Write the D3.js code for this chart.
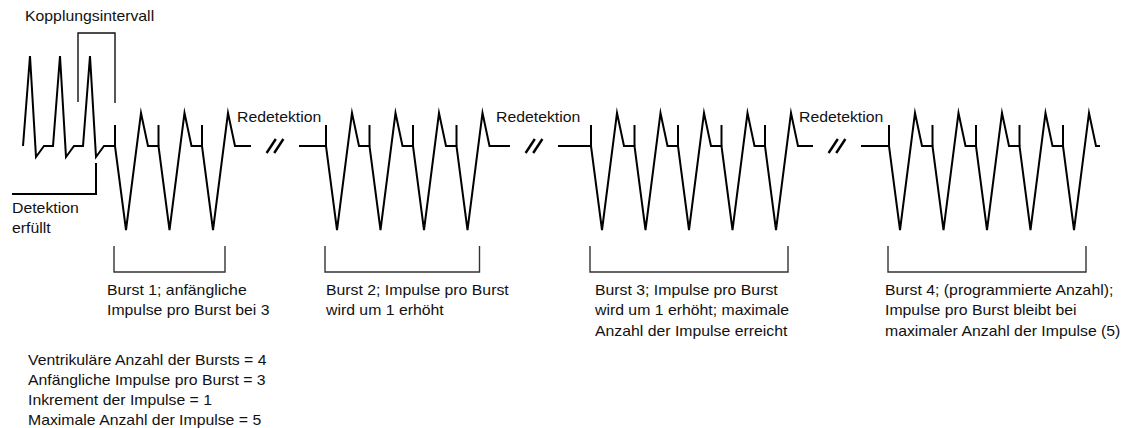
<!DOCTYPE html>
<html>
<head>
<meta charset="utf-8">
<script src="https://cdn.jsdelivr.net/npm/d3@7"></script>
<style>
  html, body { margin: 0; padding: 0; background: #fff; }
  svg { display: block; }
  text { font-family: "Liberation Sans", Arial, Helvetica, sans-serif; font-size: 14px; fill: #111; }
</style>
</head>
<body>
<svg id="chart" width="1124" height="428"></svg>
<script>
// ---------------- data ----------------
const intrinsicPeaks = [30, 60, 90];            // time of intrinsic R-wave peaks
const burstStarts = [115, 326, 591, 889];        // time of first pulse of each burst
const pulsesPerBurst = [3, 4, 5, 5];             // pulses delivered in each burst
const pulseInterval = 43.5;                      // burst cycle length
const segmentEnds = [251, 510, 813, 1100];       // end of baseline after each burst
const resumeStarts = [299, 558, 861];            // baseline resumes after each break
const couplingStart = 78;                        // start of coupling interval
const detectionTime = 96;                        // detection fulfilled
const intrinsicLevels = [0, 9, -1.1, 0];         // baseline, R peak, S trough, baseline
const intrinsicOffsets = [-7, 0, 6, 14];
const pulseLevels = [0, -8.4, 3.3, 0];           // pulse onset, trough, peak, baseline
const pulseOffsets = [0, 11, 26, 33];
const tickLevel = 2.1;                           // pulse marker height
const burstLabels = [
  ["Burst 1; anfängliche", "Impulse pro Burst bei 3"],
  ["Burst 2; Impulse pro Burst", "wird um 1 erhöht"],
  ["Burst 3; Impulse pro Burst", "wird um 1 erhöht; maximale", "Anzahl der Impulse erreicht"],
  ["Burst 4; (programmierte Anzahl);", "Impulse pro Burst bleibt bei", "maximaler Anzahl der Impulse (5)"]
];
const parameterLines = [
  "Ventrikuläre Anzahl der Bursts = 4",
  "Anfängliche Impulse pro Burst = 3",
  "Inkrement der Impulse = 1",
  "Maximale Anzahl der Impulse = 5"
];
const couplingLabel = "Kopplungsintervall";
const detectionLabel = ["Detektion", "erfüllt"];
const redetectionLabel = "Redetektion";

// ---------------- layout ----------------
const W = 1124, H = 428;
const SX = 1.13; // horizontal text stretch
const burstLabelShift = [-8, 0, 4, -4];
const svg = d3.select("#chart");

const x = d3.scaleLinear().domain([0, W]).range([0, W]);
const y = d3.scaleLinear().domain([0, 9]).range([146, 56]);

// build waveform segments
const segments = [];
for (let i = 0; i < burstStarts.length; i++) {
  const pts = [];
  if (i === 0) {
    intrinsicPeaks.forEach(p => {
      intrinsicOffsets.forEach((o, k) => pts.push([p + o, intrinsicLevels[k]]));
    });
  } else {
    pts.push([resumeStarts[i - 1], 0]);
  }
  const ticks = [];
  for (let j = 0; j < pulsesPerBurst[i]; j++) {
    const t = burstStarts[i] + j * pulseInterval;
    ticks.push(t);
    pulseOffsets.forEach((o, k) => pts.push([t + o, pulseLevels[k]]));
  }
  pts.push([segmentEnds[i], 0]);
  segments.push({ pts, ticks, i });
}

const line = d3.line().x(d => x(d[0])).y(d => y(d[1]));

const g = svg.append("g");
g.selectAll("path.wave").data(segments).join("path")
  .attr("class", "wave")
  .attr("d", d => line(d.pts))
  .attr("fill", "none").attr("stroke", "#000").attr("stroke-width", 2)
  .attr("stroke-linejoin", "miter").attr("stroke-miterlimit", 6);

// pulse marker ticks
const allTicks = segments.flatMap(s => s.ticks);
g.selectAll("line.tick").data(allTicks).join("line")
  .attr("class", "tick")
  .attr("x1", d => x(d)).attr("x2", d => x(d))
  .attr("y1", y(tickLevel)).attr("y2", y(0))
  .attr("stroke", "#000").attr("stroke-width", 2);

// break marks
const breaks = resumeStarts.map((r, i) => (segmentEnds[i] + r) / 2);
breaks.forEach(c => {
  [-3.8, 3.8].forEach(off => {
    g.append("line")
      .attr("x1", x(c + off - 4.6)).attr("y1", y(0) + 7)
      .attr("x2", x(c + off + 4.6)).attr("y2", y(0) - 7)
      .attr("stroke", "#000").attr("stroke-width", 2.4);
  });
});

// coupling interval bracket
g.append("path")
  .attr("d", `M${x(couplingStart)},102 V33 H${x(burstStarts[0])} V103`)
  .attr("fill", "none").attr("stroke", "#111").attr("stroke-width", 1.4);

// detection bracket
g.append("path")
  .attr("d", `M${x(detectionTime)},163 V194 H12`)
  .attr("fill", "none").attr("stroke", "#000").attr("stroke-width", 2);

// burst brackets
segments.forEach(s => {
  const x0 = x(burstStarts[s.i]) - 1;
  const x1 = x(s.ticks[s.ticks.length - 1] + pulseOffsets[2]) - 3;
  g.append("path")
    .attr("d", `M${x0},246 V272 H${x1} V246`)
    .attr("fill", "none").attr("stroke", "#333").attr("stroke-width", 1.4);
});

// text helper
function addText(lines, tx, ty, lh) {
  const t = svg.append("text").attr("transform", `translate(${tx},${ty}) scale(${SX},1)`);
  lines.forEach((s, k) => t.append("tspan").attr("x", 0).attr("y", k * lh).text(s));
}

addText([couplingLabel], 25, 21, 20);
addText(detectionLabel, 12, 213, 20);
segmentEnds.slice(0, 3).forEach(e => addText([redetectionLabel], x(e) - 14, 122, 20));
burstLabels.forEach((lines, i) => addText(lines, x(burstStarts[i]) + burstLabelShift[i], 295, 20.5));
addText(parameterLines, 28, 365, 20);
</script>
</body>
</html>
